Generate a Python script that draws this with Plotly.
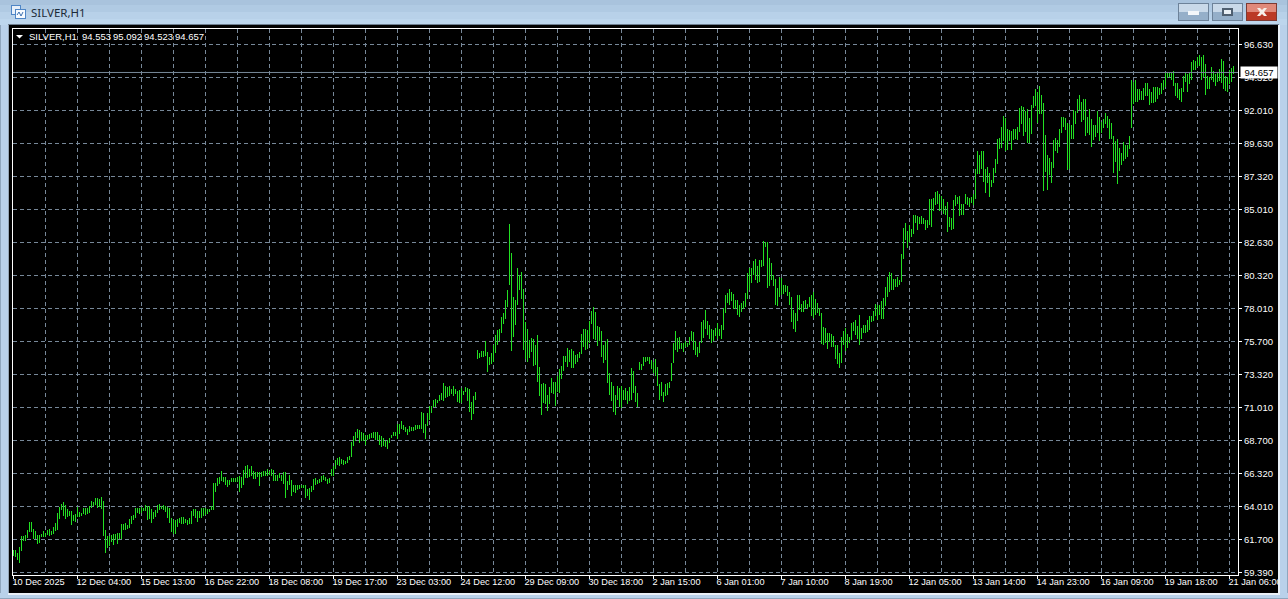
import plotly.graph_objects as go

highs = [
60.97,60.97,60.78,61.18,61.95,61.95,62.0,62.42,62.94,62.94,62.49,62.31,62.02,62.07,62.10,62.31,62.19,62.42,62.49,62.31,
62.59,62.87,63.58,64.0,64.21,64.35,64.14,63.86,63.72,63.72,63.44,63.51,64.0,63.65,63.58,63.93,63.95,63.93,64.07,64.42,
64.35,64.63,64.63,64.56,64.71,64.42,62.38,61.95,61.95,62.02,62.10,62.10,62.17,62.17,62.80,62.80,62.87,62.71,63.15,63.37,
63.44,63.95,63.95,63.91,63.98,63.91,64.14,64.07,64.05,63.86,63.65,63.79,64.14,64.21,64.07,64.16,64.07,64.0,63.93,63.22,
63.08,63.08,63.15,63.22,63.29,63.29,63.15,63.08,63.22,63.72,63.86,63.84,63.72,63.72,63.93,63.95,63.93,63.86,63.86,64.07,
65.69,65.69,66.05,66.12,66.54,66.12,66.12,65.91,65.91,66.05,66.05,66.05,66.12,66.19,
66.12,66.61,66.90,66.97,66.68,66.90,66.54,66.47,66.47,66.47,66.47,66.54,66.54,66.68,66.54,66.68,66.61,66.26,66.26,66.40,
66.26,66.47,66.47,65.84,66.26,65.91,65.56,65.56,65.56,65.56,65.56,65.56,65.56,65.27,65.32,65.49,65.98,66.05,65.91,65.98,
66.19,66.26,66.12,65.98,66.05,66.68,66.90,67.34,67.46,67.53,67.39,67.32,67.25,67.53,67.60,68.59,69.01,69.29,69.51,69.44,
69.29,69.22,69.08,69.08,69.15,69.25,69.29,69.29,69.29,69.08,69.01,68.87,68.66,68.73,68.87,69.08,69.29,69.29,69.86,69.86,
70.07,69.79,69.65,69.51,69.72,69.65,69.65,69.79,69.79,69.79,70.71,70.64,69.86,70.64,71.13,71.13,71.55,71.62,71.55,71.91,
72.05,72.73,72.54,72.47,72.54,72.33,72.54,72.33,72.19,72.26,
72.39,72.18,72.46,72.39,72.32,71.40,71.83,72.11,75.07,74.86,75.0,75.0,75.71,74.93,74.58,74.86,75.42,76.13,76.48,76.55,
77.40,77.68,78.60,79.31,83.96,81.91,78.81,78.60,80.86,80.36,80.58,79.38,77.05,76.55,75.78,75.92,75.85,75.42,76.13,73.87,
72.67,72.74,72.67,71.90,72.46,73.10,72.81,72.81,73.24,73.73,73.94,74.65,74.65,75.21,75.07,75.14,75.0,74.72,74.79,74.93,
76.20,76.55,76.55,76.48,77.12,77.82,78.11,77.75,76.77,76.69,76.41,75.42,75.71,75.85,73.45,72.81,72.53,71.90,72.53,72.39,
72.53,72.25,72.39,72.18,72.46,73.80,73.59,72.53,72.04,74.22,74.08,74.58,74.58,74.58,74.58,74.37,74.22,74.44,73.87,72.67,
72.81,72.11,72.67,72.74,72.81,74.15,75.57,76.41,75.92,75.99,
75.58,75.58,75.72,75.58,76.0,76.42,76.35,75.72,75.29,75.65,77.06,77.20,77.91,77.13,76.85,76.56,76.49,76.63,76.99,76.56,
76.85,78.05,78.96,79.10,79.39,79.18,79.03,78.61,78.61,78.26,78.40,78.54,79.10,80.52,80.87,80.87,81.36,81.50,81.01,81.43,
81.43,82.75,82.68,82.68,81.57,81.22,80.37,80.09,79.46,80.23,80.16,79.67,79.67,79.60,79.18,78.82,77.91,77.69,78.96,78.96,
78.33,78.54,78.61,78.33,78.82,78.96,79.18,78.68,78.40,78.05,77.69,76.70,76.63,76.28,76.28,76.21,76.07,75.44,75.44,74.87,
76.0,76.42,76.63,76.21,76.0,76.99,77.06,77.20,76.78,77.55,76.63,76.85,76.85,77.20,77.48,77.48,77.83,78.33,78.26,78.26,
78.54,78.75,79.53,80.23,80.59,80.52,80.09,80.09,80.23,80.02,81.86,
83.68,84.03,83.47,83.89,83.61,84.60,84.60,84.53,84.45,84.53,84.38,84.24,84.24,85.72,85.72,85.79,86.22,86.29,86.08,85.94,
85.72,85.23,85.51,84.45,84.38,85.65,86.01,85.87,85.94,85.37,85.37,86.08,85.87,85.79,85.87,86.08,87.84,89.11,88.83,89.11,
89.11,87.84,87.98,87.56,87.07,87.91,88.55,89.96,90.03,90.80,91.58,91.44,90.66,90.59,90.52,90.66,90.66,90.80,92.15,
92.28,92.21,91.93,92.07,91.43,92.35,92.98,93.48,93.27,93.69,93.05,92.49,90.23,88.82,88.61,88.33,89.88,90.02,89.88,90.66,
91.50,91.50,91.43,91.08,91.01,90.94,92.0,91.93,92.77,93.05,92.56,92.77,92.77,91.50,92.07,91.36,90.94,90.94,91.93,91.50,
91.15,91.36,91.79,91.57,91.36,91.08,90.16,89.81,89.95,89.32,88.96,89.74,89.53,89.53,90.16,94.11,93.97,94.11,93.48,93.48,
93.34,93.55,93.90,93.90,93.48,93.27,93.62,93.62,93.62,93.55,93.90,94.11,94.65,94.65,94.65,94.65,94.75,93.90,93.90,93.48,
93.55,94.40,94.61,94.54,94.61,95.38,95.52,95.45,95.74,95.88,95.74,95.88,95.24,94.40,94.33,95.03,94.75,94.54,94.68,94.89,
95.60,95.45,94.40,94.33,94.82,94.96,95.09,
]

lows = [
60.54,60.45,60.26,60.07,60.90,61.62,61.6,61.79,62.24,62.24,61.77,61.72,61.39,61.44,61.86,61.88,61.91,62.0,61.95,62.0,
62.10,62.33,62.38,63.15,63.79,63.39,63.15,63.27,63.39,62.73,63.04,62.92,63.29,63.32,63.37,63.51,63.48,63.51,63.6,63.91,
64.07,64.14,63.93,64.0,63.86,61.95,60.75,61.11,61.25,61.53,61.32,61.67,61.41,61.74,61.74,62.42,62.42,62.45,62.52,62.80,
63.06,63.22,63.58,63.51,63.62,63.76,63.72,63.08,63.18,62.87,63.15,63.29,63.58,63.79,63.86,63.79,63.65,63.22,62.87,62.24,
62.10,62.10,62.59,62.85,62.80,62.80,62.85,62.73,62.80,62.80,63.41,63.22,62.94,63.25,63.22,63.37,63.44,63.51,63.65,63.79,
63.79,65.06,65.48,65.62,65.83,65.76,65.55,65.41,65.55,65.76,65.76,65.76,65.76,65.06,
65.34,65.56,66.05,66.05,66.12,66.19,65.98,65.98,66.12,65.48,66.12,66.19,66.19,66.19,66.26,66.19,65.84,65.84,65.84,66.03,
65.84,65.63,64.64,65.20,65.56,64.78,65.06,64.99,65.20,65.27,65.34,65.34,64.64,64.78,64.50,65.06,65.20,65.56,65.63,65.70,
65.77,65.91,65.84,65.63,65.67,66.19,66.19,66.68,66.97,66.90,67.04,66.97,67.11,67.11,67.32,67.53,68.31,68.66,68.87,68.52,
68.66,68.66,68.40,68.73,68.82,68.87,68.90,68.73,68.73,68.38,68.24,68.31,68.24,68.10,68.52,68.87,69.01,69.01,68.80,69.15,
69.51,69.44,69.29,69.08,69.29,69.37,69.37,69.44,69.51,69.51,69.51,69.20,68.80,69.72,70.14,70.64,71.06,71.06,71.34,71.48,
71.55,71.48,71.69,71.76,71.84,71.98,71.84,71.98,71.41,71.34,
71.33,71.90,72.11,71.47,70.70,70.13,70.56,71.54,74.44,74.51,74.58,74.58,74.65,73.52,74.01,74.08,74.22,74.86,75.42,75.71,
76.27,76.91,77.26,78.11,79.66,75.0,76.0,76.84,78.25,79.31,78.67,75.07,74.44,74.22,74.51,74.93,73.94,74.01,72.81,71.83,
70.48,71.33,71.26,70.77,71.26,72.04,71.97,71.12,72.11,72.04,73.03,73.59,74.22,73.87,74.22,73.80,73.80,74.08,74.22,74.51,
74.79,75.28,75.07,75.14,75.57,76.91,75.85,75.78,75.35,75.71,74.58,74.15,74.37,72.74,71.90,71.47,70.70,70.48,71.54,71.05,
70.98,71.54,71.54,71.26,71.47,71.54,72.04,71.40,71.05,73.66,73.66,73.94,74.22,74.30,74.08,73.73,73.45,73.24,72.53,71.54,
71.83,71.40,71.83,71.90,72.39,72.88,74.15,75.07,74.93,75.14,
75.15,74.94,75.29,75.29,75.44,75.72,75.08,74.73,74.59,74.87,75.58,75.93,76.56,76.14,75.86,75.58,75.72,76.07,75.86,76.07,
75.86,76.49,77.72,78.40,78.26,78.54,77.98,77.98,77.55,77.41,77.76,77.98,78.12,78.68,79.32,79.81,80.37,80.02,79.81,79.88,
80.94,81.01,82.35,79.46,79.60,80.02,79.60,78.26,78.19,78.82,78.97,79.03,79.18,78.89,78.26,77.06,76.56,76.35,77.13,77.91,
77.76,77.76,78.05,77.98,78.12,77.48,77.34,77.55,77.69,77.48,75.51,75.44,75.58,75.15,75.65,75.29,75.29,74.45,74.10,73.81,
74.17,75.44,75.01,75.22,75.58,75.79,76.42,76.14,75.86,75.44,75.86,76.28,76.28,76.35,76.49,77.06,77.13,77.48,77.20,77.55,
77.27,77.27,78.19,78.82,79.18,79.32,79.32,79.53,79.53,79.67,79.88,
81.49,82.83,82.27,82.69,83.04,83.26,84.03,83.54,83.96,83.96,83.96,83.54,83.68,83.89,83.75,84.88,85.30,85.37,84.88,84.88,
84.67,84.60,83.40,83.75,83.54,83.61,85.23,85.37,84.53,84.60,84.60,85.37,85.30,85.16,85.44,85.30,85.72,87.49,87.49,87.84,
86.92,86.15,86.85,85.87,86.57,86.85,87.56,88.19,89.25,89.32,89.82,89.11,89.18,89.82,89.18,89.89,89.96,89.89,90.45,
91.01,90.16,90.44,89.67,89.67,90.30,92.14,92.28,91.08,91.71,91.76,86.28,87.62,86.35,87.41,86.85,87.90,89.10,88.96,89.39,
90.37,90.80,90.59,87.76,87.83,89.95,89.95,91.01,91.79,92.0,91.15,91.29,90.16,90.37,90.23,89.39,89.88,90.09,90.37,89.81,
90.37,90.73,91.01,90.73,89.95,89.95,87.55,88.33,86.78,87.69,88.12,88.40,88.54,88.68,89.25,90.73,92.42,92.56,92.56,92.70,
92.70,92.70,92.98,93.03,92.35,92.49,92.49,92.56,92.77,93.05,93.13,93.41,93.62,94.25,94.32,94.11,93.69,92.98,92.84,92.70,
92.56,93.27,93.97,93.27,93.83,94.11,94.82,94.82,95.03,95.10,94.11,94.32,93.05,93.48,93.48,94.11,93.97,93.69,93.97,94.04,
93.90,93.48,93.34,93.27,93.83,93.97,94.52,
]

time_labels = ["10 Dec 2025","12 Dec 04:00","15 Dec 13:00","16 Dec 22:00","18 Dec 08:00","19 Dec 17:00",
               "23 Dec 03:00","24 Dec 12:00","29 Dec 09:00","30 Dec 18:00","2 Jan 15:00","6 Jan 01:00",
               "7 Jan 10:00","8 Jan 19:00","12 Jan 05:00","13 Jan 14:00","14 Jan 23:00","16 Jan 09:00",
               "19 Jan 18:00","21 Jan 06:00"]
price_labels = ["96.630","94.320","92.010","89.630","87.320","85.010","82.630","80.320","78.010",
                "75.700","73.320","71.010","68.700","66.320","64.010","61.700","59.390"]
header_values = ["94.553","95.092","94.523","94.657"]
last_close = 94.657
chart_title = "SILVER,H1"

W, H = 1288, 599
L, R, T, B = 13, 1238, 29, 575
PW, PH = R - L, B - T
def fx(px): return (px - L) / PW
def fy(py): return 1 - (py - T) / PH

FONT = "Liberation Sans"
GREEN = "#22e022"
GRID = "#778899"
DASH = "4px,3px"

x = list(range(len(highs)))
fig = go.Figure(go.Bar(
    x=x, base=lows, y=[h - l for h, l in zip(highs, lows)],
    width=0.5, marker=dict(color=GREEN, line=dict(width=0)), hoverinfo="skip", showlegend=False))

label_step, grid_step = 32, 16
label_idx = [i * label_step for i in range(len(time_labels))]
grid_idx = [i for i in range(grid_step, 620, 2 * grid_step)]
top_p, bottom_p = 96.63, 59.39
n_lab = len(price_labels)
price_pos = [top_p - (top_p - bottom_p) * i / (n_lab - 1) for i in range(n_lab)]
ppx = 528 / (top_p - bottom_p)

shapes, ann = [], []
def rect(x0, y0, x1, y1, color, layer="above"):
    shapes.append(dict(type="rect", xref="paper", yref="paper", x0=fx(x0), x1=fx(x1), y0=fy(y1), y1=fy(y0),
                       fillcolor=color, line=dict(width=0), layer=layer))
def path(d_pts, color, width=0, fill=None):
    d = "M " + " L ".join(f"{fx(a)},{fy(b)}" for a, b in d_pts) + (" Z" if fill else "")
    shapes.append(dict(type="path", xref="paper", yref="paper", path=d, fillcolor=fill,
                       line=dict(width=width, color=color), layer="above"))

# current price line
shapes.append(dict(type="line", xref="paper", yref="y", x0=0, x1=1, y0=last_close, y1=last_close,
                   line=dict(color=GRID, width=1), layer="above"))

# window chrome
title_bands = [(0, 5, "#a9c3dd"), (5, 12, "#b0cae3"), (12, 19, "#b8d1e9"), (19, 25, "#bdd6ed")]
for y0, y1, c in title_bands:
    rect(0, y0, W, y1, c)
rect(0, 25, 8, H, "#b9d1ea")
rect(0, 25, 1, H, "#8fa6bd")
rect(8, 25, 9, 594, "#93a4b5")
rect(1278, 25, W, H, "#b9d1ea")
rect(1278, 25, 1280, 594, "#e9f0f7")
rect(1287, 0, W, H, "#8fa6bd")
rect(0, 593, W, H, "#b9d1ea")
rect(8, 593, 1280, 595, "#e9f0f7")
rect(0, 598, W, H, "#8fa6bd")
rect(8, 24, 1279, 25, "#6f7f90")

# window buttons
for x0, x1, c1, c2, e in [(1178, 1209, "#c9d9e9", "#95afc9", "#6d8299"),
                          (1212, 1243, "#c9d9e9", "#95afc9", "#6d8299"),
                          (1246, 1277, "#e0897a", "#bb3a26", "#7c3a33")]:
    rect(x0, 3, x1, 21, e)
    rect(x0 + 1, 4, x1 - 1, 12, c1)
    rect(x0 + 1, 12, x1 - 1, 20, c2)
rect(1188, 11, 1199, 15, "#f4f7fa")
rect(1222, 8, 1233, 16, "#4f5f70")
rect(1224, 10, 1231, 14, "#e8eef4")
path([(1257, 8), (1260, 8), (1262, 10), (1264, 8), (1267, 8), (1264, 12), (1267, 16), (1264, 16), (1262, 14),
      (1260, 16), (1257, 16), (1260, 12)], "#fff", 0, "#f6efe9")

# title icon
rect(11, 5, 21, 15, "#4f86c6")
rect(12, 6, 20, 14, "#e8f0fa")
rect(15, 9, 26, 19, "#4f86c6")
rect(16, 10, 25, 18, "#f7fbff")
path([(17, 15), (19, 12), (21, 16), (23, 12)], "#3b6fb0", 1)

# header triangle in chart
path([(16, 35), (23, 35), (19.5, 38.5)], "#ffffff", 0, "#ffffff")

# annotations
ann.append(dict(xref="paper", yref="paper", x=fx(28.5), y=fy(12.5), text=chart_title, showarrow=False, xanchor="left",
                yanchor="middle", font=dict(family="Noto Sans", size=11.5, color="#1c2a38")))
ann.append(dict(xref="paper", yref="paper", x=fx(28), y=fy(36.5), text=chart_title, showarrow=False, xanchor="left",
                yanchor="middle", font=dict(family=FONT, size=9.5, color="#ffffff"), borderpad=0))
for px, v in zip([81, 112, 143, 174], header_values):
    ann.append(dict(xref="paper", yref="paper", x=fx(px), y=fy(36.5), text=v, showarrow=False, xanchor="left",
                    yanchor="middle", font=dict(family=FONT, size=9.5, color="#ffffff"), borderpad=0))
ann.append(dict(xref="paper", yref="y", x=fx(1240), y=last_close, text=f"{last_close:.3f}", showarrow=False,
                xanchor="left", yanchor="middle", width=36, height=11, bgcolor="#ffffff", align="center",
                borderpad=0, font=dict(family=FONT, size=9.5, color="#000000")))

fig.update_layout(
    width=W, height=H, margin=dict(l=L, r=W - R, t=T, b=H - B, pad=0, autoexpand=False),
    paper_bgcolor="#000000", plot_bgcolor="#000000", showlegend=False, shapes=shapes, annotations=ann,
    font=dict(family=FONT, size=9.5, color="#ffffff"), bargap=0,
    xaxis=dict(range=[-0.25, 612.25], tickmode="array", tickvals=label_idx, ticktext=time_labels,
               ticks="outside", ticklen=3, tickcolor="#ffffff", tickwidth=1, ticklabelposition="outside right",
               tickangle=0, ticklabelshift=-2, ticklabelstandoff=-2,
               showgrid=True, gridcolor=GRID, griddash=DASH, gridwidth=1,
               minor=dict(tickmode="array", tickvals=grid_idx, showgrid=True, gridcolor=GRID, griddash=DASH, gridwidth=1, ticks=""),
               showline=True, linecolor="#ffffff", linewidth=1, mirror=True, zeroline=False,
               tickfont=dict(family=FONT, size=9.2, color="#ffffff"), fixedrange=True),
    yaxis=dict(range=[bottom_p - 2.5 / ppx, top_p + 15.5 / ppx], side="right", tickmode="array", tickvals=price_pos, ticktext=price_labels,
               ticks="outside", ticklen=3, tickcolor="#ffffff", tickwidth=1,
               showgrid=True, gridcolor=GRID, griddash=DASH, gridwidth=1,
               showline=True, linecolor="#ffffff", linewidth=1, mirror=True, zeroline=False,
               tickfont=dict(family=FONT, size=9.5, color="#ffffff"), fixedrange=True),
)

fig.write_html("out.html", config=dict(displayModeBar=False),
               post_script="document.body.style.margin='0';document.documentElement.style.background='#000';")
